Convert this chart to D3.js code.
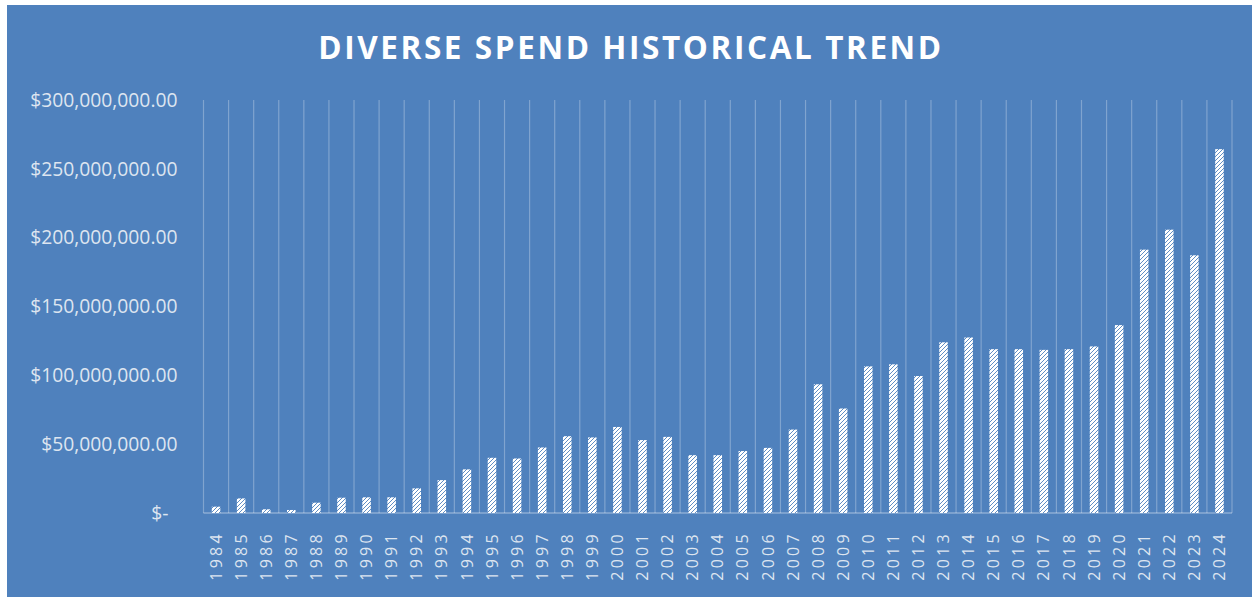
<!DOCTYPE html>
<html>
<head>
<meta charset="utf-8">
<script src="https://cdn.jsdelivr.net/npm/d3@7"></script>
<style>
  body { margin: 0; background: #fff; }
  svg { display: block; }
</style>
</head>
<body>
<svg width="1252" height="597"></svg>
<script>
var years = ["1984","1985","1986","1987","1988","1989","1990","1991","1992","1993",
  "1994","1995","1996","1997","1998","1999","2000","2001","2002","2003",
  "2004","2005","2006","2007","2008","2009","2010","2011","2012","2013",
  "2014","2015","2016","2017","2018","2019","2020","2021","2022","2023","2024"];

// spend in millions of dollars
var spend = [4.6, 10.6, 2.7, 2.2, 7.5, 11.1, 11.4, 11.4, 17.9, 23.9,
  31.7, 40.1, 39.6, 47.6, 55.8, 54.9, 62.5, 53.0, 55.3, 42.0,
  42.0, 45.0, 47.3, 60.6, 93.5, 75.9, 106.5, 108.0, 99.5, 124.0,
  127.5, 119.0, 119.0, 118.5, 119.0, 121.0, 136.5, 191.3, 205.8, 187.2, 264.3];

var yTicks = [0, 50e6, 100e6, 150e6, 200e6, 250e6, 300e6];

var title = "DIVERSE SPEND HISTORICAL TREND";

var blue = "#4f81bd";
var labelColor = "#dde5f0";

var svg = d3.select("svg");

// blue chart area
svg.append("rect")
  .attr("x", 7).attr("y", 5)
  .attr("width", 1245).attr("height", 592)
  .attr("fill", blue);

// hatch pattern for bars
var defs = svg.append("defs");
var pat = defs.append("pattern")
  .attr("id", "hatch")
  .attr("patternUnits", "userSpaceOnUse")
  .attr("width", 4).attr("height", 4);
pat.append("rect").attr("width", 4).attr("height", 4).attr("fill", "#ffffff");
pat.append("path")
  .attr("d", "M-1,1 l2,-2 M0,4 l4,-4 M3,5 l2,-2")
  .attr("stroke", blue)
  .attr("stroke-width", 0.9);

var plotLeft = 203.5, plotRight = 1232, plotTop = 100, plotBottom = 513;

var x = d3.scaleBand().domain(years).range([plotLeft, plotRight]).padding(0);
var y = d3.scaleLinear().domain([0, 300e6]).range([plotBottom, plotTop]);

var data = years.map(function(d, i) { return { year: d, value: spend[i] * 1e6 }; });

// vertical gridlines at category boundaries
var edges = years.map(function(d) { return x(d); }).concat([plotRight]);
svg.append("g")
  .selectAll("line")
  .data(edges)
  .enter().append("line")
    .attr("x1", function(d) { return d; })
    .attr("x2", function(d) { return d; })
    .attr("y1", y(300e6))
    .attr("y2", y(0))
    .attr("stroke", "rgba(255,255,255,0.28)")
    .attr("stroke-width", 1.2);

// baseline
svg.append("line")
  .attr("x1", plotLeft).attr("x2", plotRight)
  .attr("y1", y(0)).attr("y2", y(0))
  .attr("stroke", "rgba(255,255,255,0.35)")
  .attr("stroke-width", 1.5);

// bars
var barW = x.bandwidth() * 0.34;
svg.append("g")
  .selectAll("rect")
  .data(data)
  .enter().append("rect")
    .attr("x", function(d) { return x(d.year) + (x.bandwidth() - barW) / 2; })
    .attr("y", function(d) { return y(d.value); })
    .attr("width", barW)
    .attr("height", function(d) { return y(0) - y(d.value); })
    .attr("fill", "url(#hatch)");

// y axis
var fmt = d3.format(",.2f");
var yAxis = d3.axisLeft(y)
  .tickValues(yTicks)
  .tickSize(0)
  .tickPadding(26)
  .tickFormat(function(d) { return d === 0 ? "$-" : "$" + fmt(d); });

var gy = svg.append("g")
  .attr("transform", "translate(" + plotLeft + ",0)")
  .call(yAxis);
gy.select(".domain").remove();
gy.selectAll("text")
  .attr("fill", labelColor)
  .style("font-family", "'Open Sans', sans-serif")
  .style("font-size", "19.3px")
  .attr("dx", function(d) { return d === 0 ? -9 : 0; });

// x axis
var xAxis = d3.axisBottom(x).tickSize(0).tickPadding(0);
var gx = svg.append("g")
  .attr("transform", "translate(0," + plotBottom + ")")
  .call(xAxis);
gx.select(".domain").remove();
gx.selectAll("text")
  .attr("fill", labelColor)
  .style("font-family", "'Open Sans', sans-serif")
  .style("font-size", "16px")
  .style("letter-spacing", "3.3px")
  .attr("text-anchor", "end")
  .attr("transform", "rotate(-90)")
  .attr("x", -18)
  .attr("y", 0)
  .attr("dy", "0.35em");

// title
svg.append("text")
  .attr("x", 631)
  .attr("y", 59)
  .attr("text-anchor", "middle")
  .attr("fill", "#ffffff")
  .style("font-family", "'Open Sans', sans-serif")
  .style("font-weight", "bold")
  .style("font-size", "31.5px")
  .style("letter-spacing", "2.6px")
  .text(title);
</script>
</body>
</html>
